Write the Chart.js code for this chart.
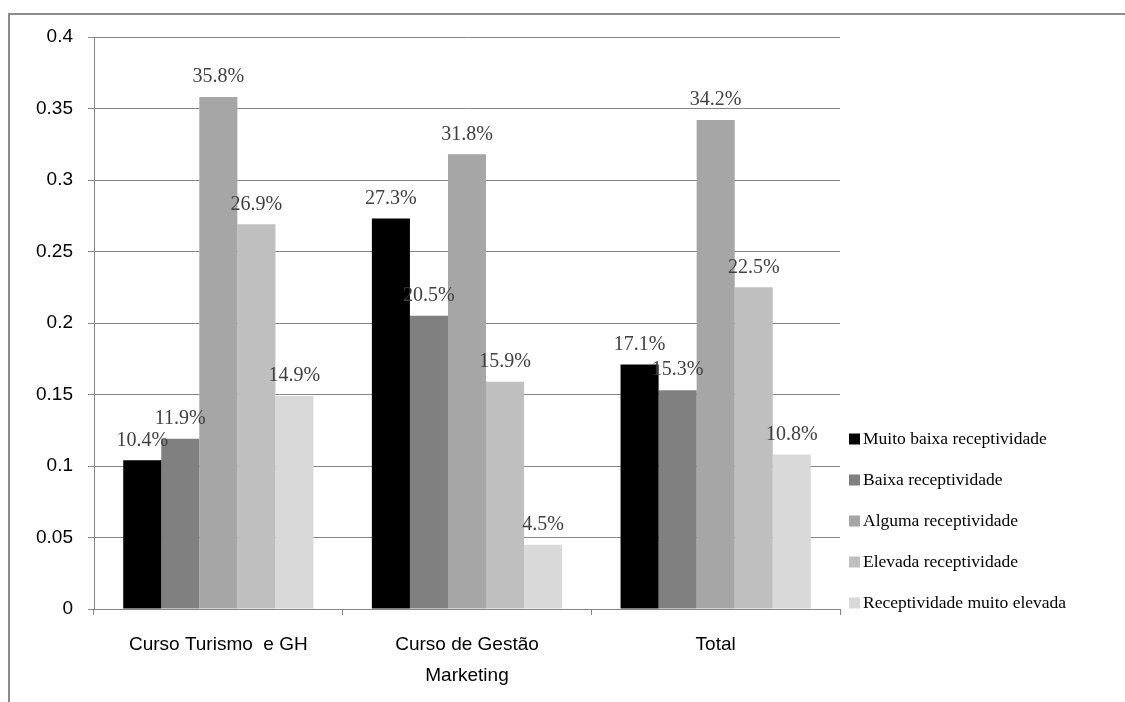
<!DOCTYPE html>
<html>
<head>
<meta charset="utf-8">
<script src="https://cdn.jsdelivr.net/npm/chart.js@4.4.1/dist/chart.umd.min.js"></script>
<style>
html,body{margin:0;padding:0;background:#fff;}
#wrap{position:relative;width:1125px;height:702px;}
canvas{display:block;}
</style>
</head>
<body>
<div id="wrap"><canvas id="c" width="1125" height="702"></canvas></div>
<script>
const categories = [["Curso Turismo  e GH"], ["Curso de Gestão", "Marketing"], ["Total"]];
const seriesNames = ["Muito baixa receptividade", "Baixa receptividade", "Alguma receptividade", "Elevada receptividade", "Receptividade muito elevada"];
const muitoBaixa = [0.104, 0.273, 0.171];
const baixa = [0.119, 0.205, 0.153];
const alguma = [0.358, 0.318, 0.342];
const elevada = [0.269, 0.159, 0.225];
const muitoElevada = [0.149, 0.045, 0.108];
const yTicks = [0, 0.05, 0.1, 0.15, 0.2, 0.25, 0.3, 0.35, 0.4];
const colors = ["#000000", "#808080", "#a6a6a6", "#bfbfbf", "#d9d9d9"];

const seriesValues = [muitoBaixa, baixa, alguma, elevada, muitoElevada];

const SERIF = "'Liberation Serif', 'DejaVu Serif', serif";
const SANS = "'Liberation Sans', Arial, sans-serif";

const framePlugin = {
  id: 'frame',
  beforeDraw(chart) {
    const ctx = chart.ctx;
    ctx.save();
    ctx.strokeStyle = '#8c8c8c';
    ctx.lineWidth = 2;
    ctx.beginPath();
    ctx.moveTo(9, 710);
    ctx.lineTo(9, 14);
    ctx.lineTo(1130, 14);
    ctx.stroke();
    ctx.restore();
  }
};

const labelPlugin = {
  id: 'valueLabels',
  afterDatasetsDraw(chart) {
    const ctx = chart.ctx;
    ctx.save();
    ctx.font = "20px " + SERIF;
    ctx.fillStyle = '#404040';
    ctx.textAlign = 'center';
    ctx.textBaseline = 'middle';
    chart.data.datasets.forEach((ds, i) => {
      const meta = chart.getDatasetMeta(i);
      meta.data.forEach((bar, j) => {
        const v = ds.data[j];
        ctx.fillText((v * 100).toFixed(1) + '%', bar.x, bar.y - 20);
      });
    });
    ctx.restore();
  }
};

const legendPlugin = {
  id: 'customLegend',
  afterDraw(chart) {
    const ctx = chart.ctx;
    ctx.save();
    ctx.font = "17.5px " + SERIF;
    ctx.textBaseline = 'middle';
    ctx.textAlign = 'left';
    const x0 = 849, y0 = 439, step = 41;
    seriesNames.forEach((name, i) => {
      const y = y0 + i * step;
      ctx.fillStyle = colors[i];
      ctx.fillRect(x0, y - 5.5, 11, 11);
      ctx.fillStyle = '#000';
      ctx.fillText(name, x0 + 14, y);
    });
    ctx.restore();
  }
};

new Chart(document.getElementById('c'), {
  type: 'bar',
  data: {
    labels: categories,
    datasets: seriesNames.map((n, i) => ({
      label: n,
      data: seriesValues[i],
      backgroundColor: colors[i],
      borderWidth: 0,
      categoryPercentage: 0.765,
      barPercentage: 1.0
    }))
  },
  options: {
    responsive: false,
    animation: false,
    layout: { padding: { left: 0, right: 285, top: 37, bottom: 0 } },
    plugins: { legend: { display: false }, tooltip: { enabled: false } },
    scales: {
      x: {
        grid: { drawOnChartArea: false, drawTicks: true, tickLength: 6, color: '#868686', offset: true },
        border: { color: '#868686', width: 1 },
        ticks: { color: '#000', font: { family: SANS, size: 19, lineHeight: 1.6 }, padding: 15, maxRotation: 0 },
        afterFit(scale) { scale.height = 93; }
      },
      y: {
        min: 0, max: 0.4,
        afterBuildTicks(scale) { scale.ticks = yTicks.map(v => ({ value: v })); },
        grid: { color: '#868686', tickLength: 6 },
        border: { color: '#868686', width: 1 },
        ticks: { color: '#000', font: { family: SANS, size: 19 }, padding: 15,
                 callback: v => String(v) },
        afterFit(scale) { scale.width = 94; }
      }
    }
  },
  plugins: [framePlugin, labelPlugin, legendPlugin]
});
</script>
</body>
</html>
